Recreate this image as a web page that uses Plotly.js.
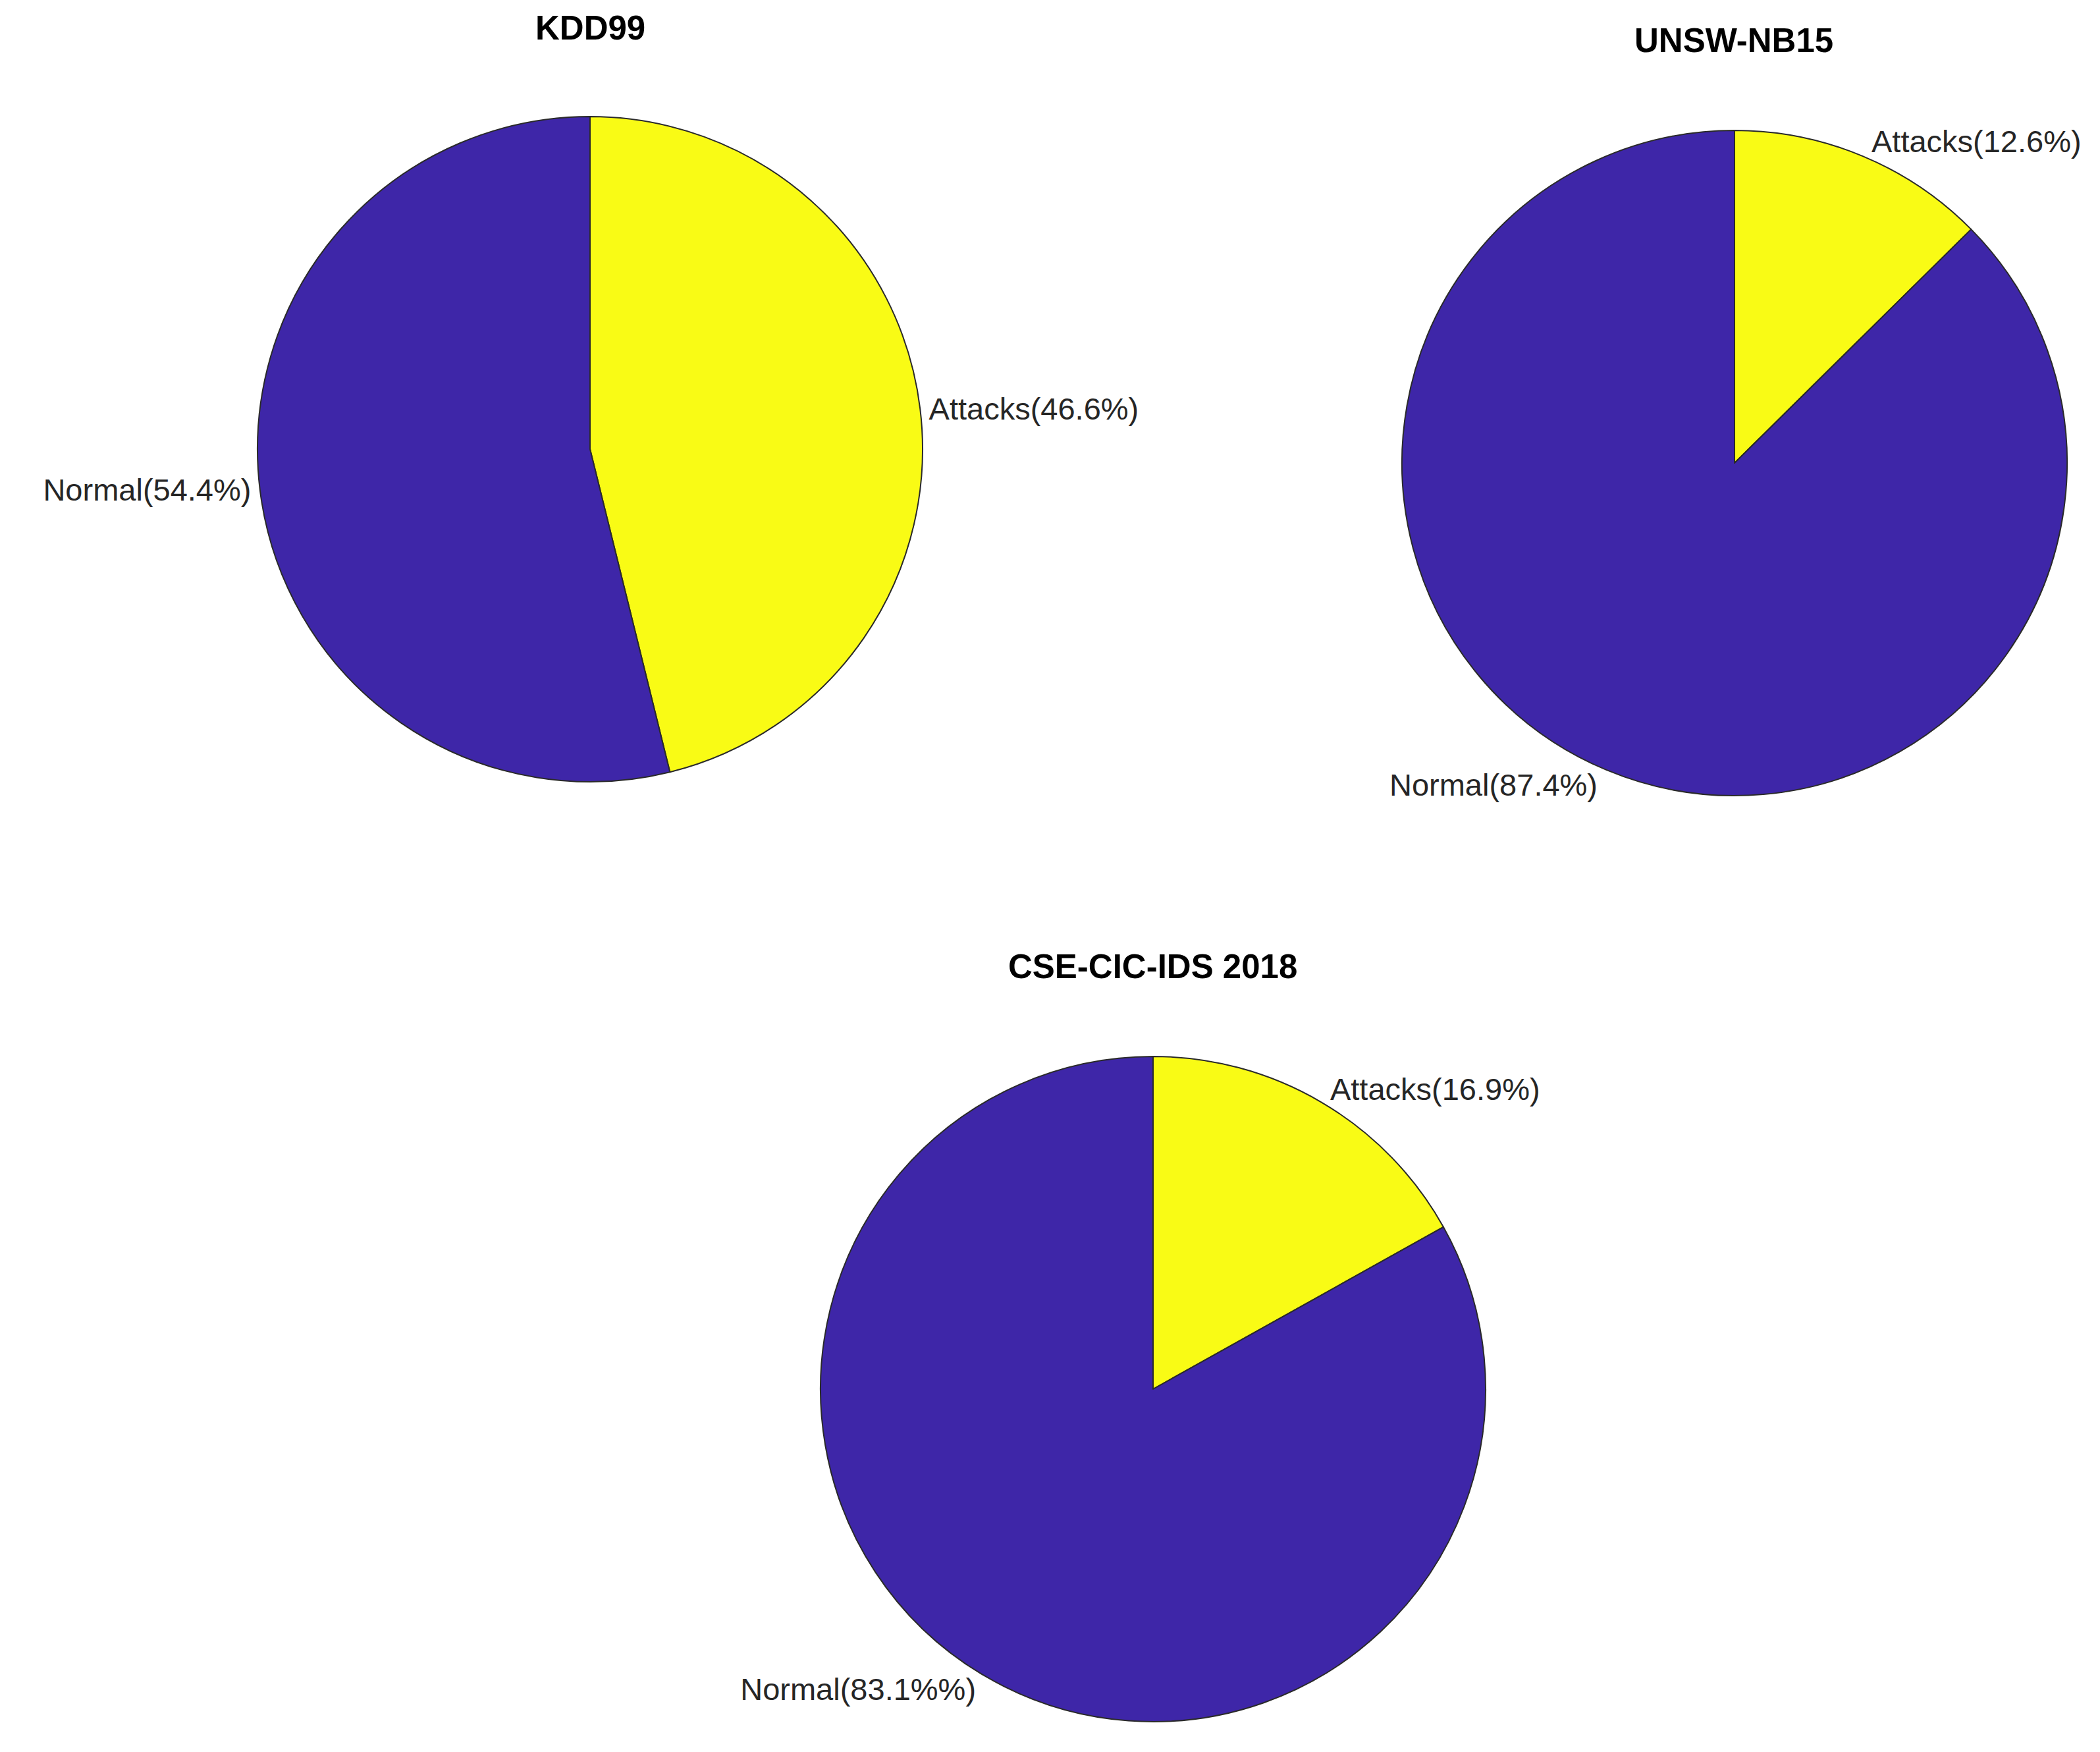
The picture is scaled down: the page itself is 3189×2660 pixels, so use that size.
<!DOCTYPE html>
<html>
<head>
<meta charset="utf-8">
<script src="https://cdn.plot.ly/plotly-3.0.1.min.js"></script>
<style>
  html, body { margin: 0; padding: 0; background: #ffffff; }
  #chart { width: 3189px; height: 2660px; }
</style>
</head>
<body>
<div id="chart"></div>
<script>
// --- data ---
const sliceLabels = ['Attacks', 'Normal'];
const kddValues = [46.6, 54.4];
const unswValues = [12.6, 87.4];
const cicValues = [16.9, 83.1];
const kddText = ['Attacks(46.6%)', 'Normal(54.4%)'];
const unswText = ['Attacks(12.6%)', 'Normal(87.4%)'];
const cicText = ['Attacks(16.9%)', 'Normal(83.1%%)'];
const chartTitles = ['KDD99', 'UNSW-NB15', 'CSE-CIC-IDS 2018'];

// --- layout helpers ---
const W = 3189, H = 2660;
const sliceColors = ['#F9FB15', '#3E26A8'];

function domainFor(cx, cy, r) {
    return {
        x: [(cx - r) / W, (cx + r) / W],
        y: [1 - (cy + r) / H, 1 - (cy - r) / H]
    };
}

function makePie(values, text, dom) {
    return {
        type: 'pie',
        labels: sliceLabels,
        values: values,
        text: text,
        textinfo: 'text',
        textposition: 'outside',
        sort: false,
        direction: 'clockwise',
        rotation: 0,
        domain: dom,
        marker: { colors: sliceColors, line: { color: '#2a2a2a', width: 2 } },
        outsidetextfont: { family: 'Liberation Sans, Arial, sans-serif', size: 47, color: '#262626' },
        hoverinfo: 'skip',
        showlegend: false
    };
}

const data = [
    makePie(kddValues, kddText, domainFor(896, 682, 505)),
    makePie(unswValues, unswText, domainFor(2634, 703, 505)),
    makePie(cicValues, cicText, domainFor(1751, 2109, 505))
];

const titlePos = [[896, 42], [2633, 61], [1750, 1467]];
const annotations = chartTitles.map((t, i) => ({
    text: '<b>' + t + '</b>',
    xref: 'paper', yref: 'paper',
    x: titlePos[i][0] / W, y: 1 - titlePos[i][1] / H,
    xanchor: 'center', yanchor: 'middle',
    showarrow: false,
    font: { family: 'Liberation Sans, Arial, sans-serif', size: 51, color: '#000000' }
}));

const layout = {
    width: W,
    height: H,
    margin: { l: 0, r: 0, t: 0, b: 0 },
    paper_bgcolor: '#ffffff',
    plot_bgcolor: '#ffffff',
    annotations: annotations
};

Plotly.newPlot('chart', data, layout, { displayModeBar: false, staticPlot: true });
</script>
</body>
</html>
